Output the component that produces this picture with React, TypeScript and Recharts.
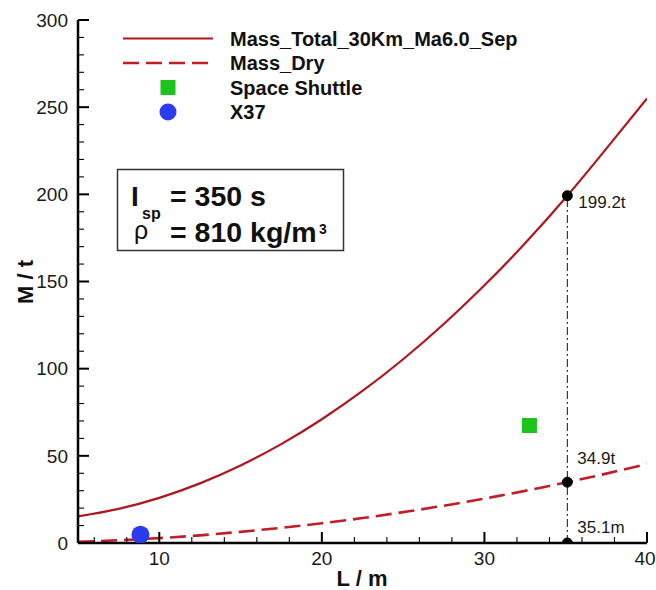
import React from 'react';
import {
  ComposedChart,
  Line,
  Scatter,
  XAxis,
  YAxis,
  ReferenceLine,
  ReferenceDot,
  Customized,
} from 'recharts';

// ---------- data ----------
const lengths = [5, 7.5, 10, 12.5, 15, 17.5, 20, 22.5, 25, 27.5, 30, 32.5, 35.1, 37.5, 40];
const massTotal = [15.3, 19.6, 25.9, 34.2, 44.5, 56.7, 71, 87.2, 105.4, 125.6, 147.8, 171.9, 199.2, 226.2, 255];
const massDry = [0.7, 1.6, 2.8, 4.4, 6.4, 8.7, 11.3, 14.3, 17.7, 21.4, 25.5, 29.9, 34.9, 39.8, 45.3];

const shuttlePoints = [{ L: 32.77, M: 67.4 }];
const x37Points = [{ L: 8.84, M: 4.8 }];

const markerL = 35.1;
const markerValues = [199.2, 34.9, 0];
const markerLabels = ['199.2t', '34.9t', '35.1m'];

const xTicks = [6, 8, 10, 12, 14, 16, 18, 20, 22, 24, 26, 28, 30, 32, 34, 36, 38, 40];
const xMajorEvery = 10;
const yTicks = [0, 10, 20, 30, 40, 50, 60, 70, 80, 90, 100, 110, 120, 130, 140, 150, 160, 170, 180, 190, 200, 210, 220, 230, 240, 250, 260, 270, 280, 290, 300];
const yMajorEvery = 50;

const seriesNames = ['Mass_Total_30Km_Ma6.0_Sep', 'Mass_Dry', 'Space Shuttle', 'X37'];

const totalData = lengths.map((L, i) => ({ L, M: massTotal[i] }));
const dryData = lengths.map((L, i) => ({ L, M: massDry[i] }));

// ---------- styles ----------
const FONT = "Arial, 'Liberation Sans', sans-serif";
const RED = '#b0161e';
const RED_DASH = '#c01e26';
const GREEN = '#1ec31e';
const BLUE = '#2b3cf0';
const DASH = '16 7';
const Y_TICK_MARGIN = 10;

const YTick = (props: any) => {
  const { x, y, payload } = props;
  const v = payload.value;
  const major = v % yMajorEvery === 0;
  const ax = x + Y_TICK_MARGIN;
  return (
    <g>
      <line x1={ax} x2={ax + (major ? 11 : 6)} y1={y} y2={y} stroke="#000" strokeWidth={major ? 2 : 1.1} />
      {major && (
        <text x={x} y={y} dy={6.8} textAnchor="end" fontFamily={FONT} fontSize={19} fill="#1a1a1a">
          {v}
        </text>
      )}
    </g>
  );
};

const XTick = (props: any) => {
  const { x, y, payload } = props;
  const v = payload.value;
  const major = v % xMajorEvery === 0;
  const last = v === xTicks[xTicks.length - 1];
  return (
    <g>
      <line x1={x} x2={x} y1={y} y2={y - (major ? 11 : 6)} stroke="#000" strokeWidth={major ? 2 : 1.1} />
      {major && (
        <text x={last ? x - 2 : x} y={y} dy={21.5} textAnchor="middle" fontFamily={FONT} fontSize={19} fill="#1a1a1a">
          {v}
        </text>
      )}
    </g>
  );
};

const MarkerLabel = (dx: number, dy: number, text: string) => (props: any) => {
  const vb = props.viewBox || {};
  const cx = vb.x + (vb.width || 0) / 2;
  const cy = vb.y + (vb.height || 0) / 2;
  return (
    <text x={cx + dx} y={cy + dy} fontFamily={FONT} fontSize={17} fill="#1a1a1a">
      {text}
    </text>
  );
};

const labelOffsets: [number, number][] = [
  [11, 12],
  [10, -18],
  [10, -10],
];

const Overlay = () => {
  const rowY = [38.5, 63, 87.5, 112];
  return (
    <g fontFamily={FONT}>
      {/* legend */}
      <line x1={123} x2={213} y1={rowY[0]} y2={rowY[0]} stroke={RED} strokeWidth={2.2} />
      <line x1={123} x2={213} y1={rowY[1]} y2={rowY[1]} stroke={RED_DASH} strokeWidth={2.6} strokeDasharray={DASH} />
      <rect x={160.5} y={rowY[2] - 7.5} width={15} height={15} fill={GREEN} />
      <circle cx={168} cy={rowY[3]} r={8.5} fill={BLUE} />
      {seriesNames.map((n, i) => (
        <text key={n} x={230} y={rowY[i]} dy={7} fontSize={20} fontWeight="bold" fill="#111">
          {n}
        </text>
      ))}

      {/* parameter box */}
      <rect x={117.5} y={169.5} width={226} height={81} fill="#fff" stroke="#333" strokeWidth={1.5} />
      <text fill="#111" fontWeight="bold">
        <tspan x={131} y={205.5} fontSize={28}>I</tspan>
        <tspan x={142} y={218.5} fontSize={16}>sp</tspan>
        <tspan x={170} y={205.5} fontSize={28.5}>= 350 s</tspan>
        <tspan x={134} y={239} fontSize={25} fontWeight="normal">ρ</tspan>
        <tspan x={170} y={241.5} fontSize={28.5}>= 810 kg/m</tspan>
        <tspan x={319} y={234} fontSize={14}>3</tspan>
      </text>

      {/* axis titles */}
      <text x={33} y={282} transform="rotate(-90 33 282)" textAnchor="middle" fontSize={22} fontWeight="bold" fill="#111">
        M / t
      </text>
      <text x={362} y={586} textAnchor="middle" fontSize={22} fontWeight="bold" fill="#111">
        L / m
      </text>
    </g>
  );
};

const SquareShape = (props: any) => {
  const { cx, cy } = props;
  return <rect x={cx - 7.5} y={cy - 7.5} width={15} height={15} fill={GREEN} />;
};

const CircleShape = (props: any) => {
  const { cx, cy } = props;
  return <circle cx={cx} cy={cy} r={9} fill={BLUE} />;
};

export default function App() {
  return (
    <div style={{ position: 'absolute', left: 0, top: 0, width: 656, height: 590, background: '#fff' }}>
      <ComposedChart width={656} height={590} margin={{ top: 20, right: 9, bottom: 0, left: 0 }}>
        <XAxis
          type="number"
          dataKey="L"
          domain={[5, 40]}
          ticks={xTicks}
          interval={0}
          allowDataOverflow
          height={47}
          tickSize={0}
          tickMargin={0}
          tickLine={false}
          axisLine={{ stroke: '#000', strokeWidth: 2.5 }}
          tick={<XTick />}
        />
        <YAxis
          type="number"
          dataKey="M"
          domain={[0, 300]}
          ticks={yTicks}
          interval={0}
          allowDataOverflow
          width={78}
          tickSize={0}
          tickMargin={Y_TICK_MARGIN}
          tickLine={false}
          axisLine={{ stroke: '#000', strokeWidth: 2.5 }}
          tick={<YTick />}
        />
        <Customized component={Overlay} />
        <ReferenceLine
          segment={[
            { x: markerL, y: markerValues[2] },
            { x: markerL, y: markerValues[0] },
          ]}
          stroke="#111"
          strokeWidth={1}
          strokeDasharray="8 3 2 3"
        />
        <Line
          data={totalData}
          dataKey="M"
          type="natural"
          stroke={RED}
          strokeWidth={2.2}
          dot={false}
          activeDot={false}
          isAnimationActive={false}
          name={seriesNames[0]}
        />
        <Line
          data={dryData}
          dataKey="M"
          type="natural"
          stroke={RED_DASH}
          strokeWidth={2.6}
          strokeDasharray={DASH}
          dot={false}
          activeDot={false}
          isAnimationActive={false}
          name={seriesNames[1]}
        />
        <Scatter data={shuttlePoints} dataKey="M" shape={<SquareShape />} isAnimationActive={false} name={seriesNames[2]} />
        <Scatter data={x37Points} dataKey="M" shape={<CircleShape />} isAnimationActive={false} name={seriesNames[3]} />
        {markerValues.map((v, i) => (
          <ReferenceDot
            key={i}
            x={markerL}
            y={v}
            r={5}
            fill="#000"
            stroke="#000"
            ifOverflow="hidden"
            label={{ content: MarkerLabel(labelOffsets[i][0], labelOffsets[i][1], markerLabels[i]) } as any}
          />
        ))}
      </ComposedChart>
    </div>
  );
}
